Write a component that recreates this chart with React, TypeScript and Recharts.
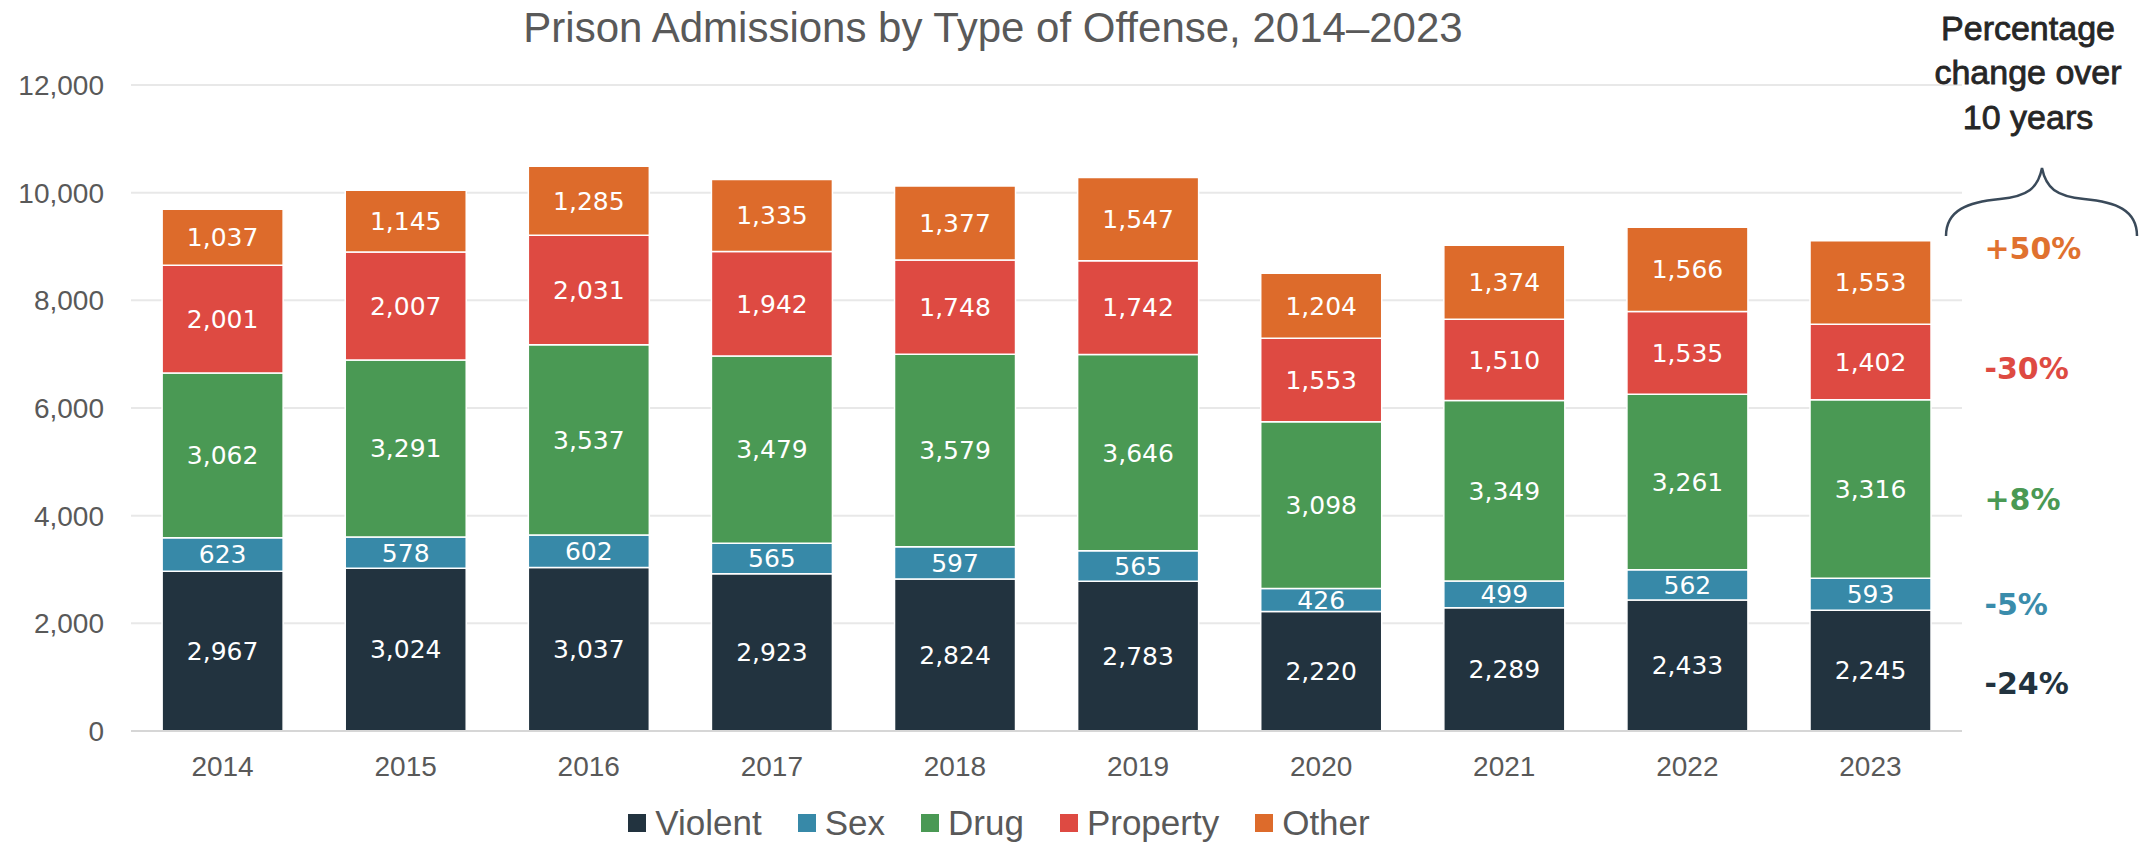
import React from 'react';
import { BarChart, Bar, XAxis, YAxis, CartesianGrid, Legend, LabelList, ReferenceDot } from 'recharts';

const years = ['2014', '2015', '2016', '2017', '2018', '2019', '2020', '2021', '2022', '2023'];
const violent = [2967, 3024, 3037, 2923, 2824, 2783, 2220, 2289, 2433, 2245];
const sex = [623, 578, 602, 565, 597, 565, 426, 499, 562, 593];
const drug = [3062, 3291, 3537, 3479, 3579, 3646, 3098, 3349, 3261, 3316];
const property = [2001, 2007, 2031, 1942, 1748, 1742, 1553, 1510, 1535, 1402];
const other = [1037, 1145, 1285, 1335, 1377, 1547, 1204, 1374, 1566, 1553];
const yTicks = [0, 2000, 4000, 6000, 8000, 10000, 12000];

// 10-year change, in series order, and the height (data units) each label sits at
const changeLabels = ['-24%', '-5%', '+8%', '-30%', '+50%'];
const changeAt = [891, 2359, 4309, 6741, 8970];

const SERIES = [
  { key: 'violent', name: 'Violent', color: '#22333F', text: '#22333F' },
  { key: 'sex', name: 'Sex', color: '#3789A8', text: '#3A8CAB' },
  { key: 'drug', name: 'Drug', color: '#4A9954', text: '#4A9954' },
  { key: 'property', name: 'Property', color: '#DE4A42', text: '#DE4A42' },
  { key: 'other', name: 'Other', color: '#DD6B2B', text: '#E0712F' },
];

const rows = years.map((year, i) => ({
  year,
  violent: violent[i],
  sex: sex[i],
  drug: drug[i],
  property: property[i],
  other: other[i],
}));

const SANS = '"Liberation Sans", Arial, sans-serif';
const WIDE = '"DejaVu Sans", Verdana, sans-serif';
const GREY = '#595959';

const fmt = (v: any) => Number(v).toLocaleString('en-US');

function LegendBox(props: any) {
  const order = SERIES.map((s) => s.name);
  const items = [...(props.payload || [])].sort((a: any, b: any) => order.indexOf(a.value) - order.indexOf(b.value));
  return (
    <div style={{ height: 36, display: 'flex', justifyContent: 'center', alignItems: 'center', gap: 36, paddingLeft: 36 }}>
      {items.map((it: any) => (
        <div key={it.value} style={{ display: 'flex', alignItems: 'center', gap: 9 }}>
          <span style={{ width: 18, height: 18, background: it.color, display: 'inline-block' }} />
          <span style={{ fontFamily: SANS, fontSize: 35, color: GREY, lineHeight: '36px' }}>{it.value}</span>
        </div>
      ))}
    </div>
  );
}

export default function App() {
  return (
    <div style={{ position: 'absolute', left: 0, top: 0, width: 2151, height: 842, background: '#fff' }}>
      <BarChart
        width={2151}
        height={842}
        data={rows}
        barCategoryGap="17%"
        margin={{ top: 85, right: 189, bottom: 1, left: 0 }}
      >
        <CartesianGrid vertical={false} stroke="#E8E8E8" strokeWidth={2} />
        <XAxis
          dataKey="year"
          height={74}
          tickLine={false}
          tickSize={0}
          tickMargin={25}
          axisLine={{ stroke: '#D6D6D6', strokeWidth: 2 }}
          tick={{ fill: GREY, fontSize: 28, fontFamily: SANS }}
        />
        <YAxis
          width={131}
          domain={[0, 12000]}
          ticks={yTicks}
          axisLine={false}
          tickLine={false}
          tickSize={0}
          tickMargin={27}
          tickFormatter={fmt}
          tick={{ fill: GREY, fontSize: 28, fontFamily: SANS }}
        />
        <Legend verticalAlign="bottom" content={<LegendBox />} />
        {SERIES.map((s) => (
          <Bar
            key={s.key}
            dataKey={s.key}
            name={s.name}
            stackId="a"
            fill={s.color}
            stroke="#fff"
            strokeWidth={1.5}
            isAnimationActive={false}
          >
            <LabelList
              dataKey={s.key}
              position="center"
              formatter={fmt}
              fill="#fff"
              stroke="none"
              fontSize={25}
              fontFamily={WIDE}
            />
          </Bar>
        ))}
        {SERIES.map((s, i) => (
          <ReferenceDot
            key={'chg-' + s.key}
            x="2023"
            y={changeAt[i]}
            r={0}
            ifOverflow="visible"
            shape={(p: any) => (
              <text
                x={p.cx + 114}
                y={p.cy}
                dominantBaseline="central"
                fill={s.text}
                fontFamily={WIDE}
                fontWeight="bold"
                fontSize={30}
              >
                {changeLabels[i]}
              </text>
            )}
          />
        ))}
      </BarChart>

      <svg width={2151} height={842} style={{ position: 'absolute', left: 0, top: 0, pointerEvents: 'none' }}>
        <text x={993} y={27} textAnchor="middle" dominantBaseline="central" fill={GREY} fontFamily={SANS} fontSize={42}>
          Prison Admissions by Type of Offense, 2014–2023
        </text>
        <g fontFamily={SANS} fontSize={34} fill="#262626" stroke="#262626" strokeWidth={0.8} textAnchor="middle" dominantBaseline="central">
          <text x={2028} y={28}>Percentage</text>
          <text x={2028} y={72}>change over</text>
          <text x={2028} y={117}>10 years</text>
        </g>
        <path
          d="M 1946 236 C 1946 210, 1968 202, 2000 199 C 2028 196, 2038 188, 2042 168 C 2046 188, 2056 196, 2084 199 C 2116 202, 2137 210, 2137 236"
          fill="none"
          stroke="#3A4A5A"
          strokeWidth={2.5}
        />
      </svg>
    </div>
  );
}
